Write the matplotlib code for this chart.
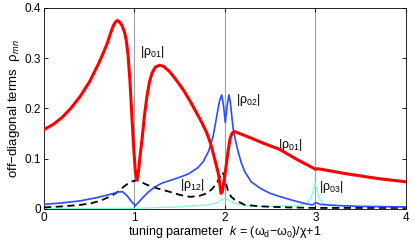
import matplotlib
matplotlib.use("Agg")
import matplotlib.pyplot as plt

plt.rcParams["font.family"] = ["Liberation Sans", "DejaVu Sans"]
plt.rcParams["mathtext.fontset"] = "custom"
plt.rcParams["mathtext.rm"] = "Liberation Sans"
plt.rcParams["mathtext.it"] = "Liberation Sans:italic"
plt.rcParams["font.size"] = 8.5

# |rho_01| (red)
k_01 = [0.0, 0.1, 0.2, 0.3, 0.4, 0.5, 0.6, 0.65, 0.7, 0.74, 0.77, 0.79, 0.81,
        0.83, 0.86, 0.89, 0.91, 0.93, 0.95, 0.97, 0.99, 1.01, 1.028, 1.045,
        1.065, 1.083, 1.11, 1.138, 1.165, 1.193, 1.23, 1.275, 1.32, 1.39, 1.46,
        1.54, 1.62, 1.69, 1.75, 1.80, 1.84, 1.87, 1.90, 1.93, 1.95, 1.956,
        1.97, 1.99, 2.01, 2.035, 2.058, 2.08, 2.106, 2.15, 2.22, 2.33, 2.42,
        2.6, 2.79, 2.97, 3.0, 3.03, 3.34, 3.71, 4.0]
rho_01 = [0.158, 0.168, 0.182, 0.201, 0.224, 0.252, 0.288, 0.308, 0.330, 0.352,
          0.366, 0.372, 0.375, 0.373, 0.366, 0.352, 0.335, 0.305, 0.255, 0.190,
          0.125, 0.075, 0.058, 0.075, 0.110, 0.137, 0.185, 0.224, 0.252, 0.270,
          0.282, 0.286, 0.284, 0.273, 0.257, 0.237, 0.213, 0.190, 0.170, 0.151,
          0.131, 0.111, 0.090, 0.068, 0.040, 0.031, 0.033, 0.055, 0.081, 0.115,
          0.141, 0.151, 0.154, 0.151, 0.146, 0.138, 0.131, 0.119, 0.099, 0.082,
          0.079, 0.080, 0.070, 0.060, 0.054]

# |rho_02| (blue)
k_02 = [0.0, 0.2, 0.4, 0.6, 0.75, 0.83, 0.87, 0.92, 0.97, 1.01, 1.05, 1.1,
        1.15, 1.22, 1.3, 1.4, 1.5, 1.6, 1.7, 1.76, 1.82, 1.87, 1.91, 1.94,
        1.964, 1.985, 2.004, 2.024, 2.044, 2.06, 2.09, 2.12, 2.146, 2.18, 2.22,
        2.29, 2.4, 2.5, 2.6, 2.75, 2.9, 2.97, 3.0, 3.01, 3.05, 3.2, 3.5, 4.0]
rho_02 = [0.009, 0.012, 0.016, 0.023, 0.030, 0.034, 0.034, 0.026, 0.014,
          0.0066, 0.014, 0.024, 0.033, 0.043, 0.051, 0.057, 0.063, 0.070, 0.082,
          0.094, 0.115, 0.145, 0.185, 0.215, 0.227, 0.205, 0.172, 0.205, 0.227,
          0.212, 0.161, 0.133, 0.114, 0.092, 0.074, 0.054, 0.040, 0.031, 0.025,
          0.017, 0.010, 0.008, 0.012, 0.0125, 0.009, 0.007, 0.005, 0.004]

# |rho_12| (black dashed)
k_12 = [0.0, 0.2, 0.4, 0.515, 0.62, 0.734, 0.81, 0.88, 0.955, 1.028, 1.08,
        1.138, 1.25, 1.39, 1.5, 1.615, 1.72, 1.80, 1.86, 1.91, 1.945, 1.975,
        2.0, 2.02, 2.037, 2.07, 2.11, 2.22, 2.4, 2.7, 3.0, 4.0]
rho_12 = [0.003, 0.005, 0.008, 0.011, 0.016, 0.025, 0.033, 0.044, 0.054,
          0.057, 0.053, 0.048, 0.041, 0.034, 0.028, 0.024, 0.026, 0.031, 0.040,
          0.051, 0.064, 0.073, 0.062, 0.045, 0.034, 0.024, 0.018, 0.008, 0.005,
          0.003, 0.002, 0.002]

# |rho_03| (cyan)
k_03 = [0.0, 1.0, 1.3, 1.5, 1.8, 1.91, 1.96, 2.0, 2.05, 2.11, 2.24, 2.5, 2.8,
        2.9, 2.95, 2.975, 2.995, 3.015, 3.04, 3.08, 3.34, 4.0]
rho_03 = [0.0008, 0.001, 0.003, 0.004, 0.008, 0.011, 0.018, 0.021, 0.016,
          0.011, 0.006, 0.005, 0.006, 0.011, 0.022, 0.035, 0.051, 0.038,
          0.022, 0.011, 0.005, 0.003]

labels = ["|ρ$_{01}$|", "|ρ$_{02}$|", "|ρ$_{12}$|", "|ρ$_{01}$|", "|ρ$_{03}$|"]
label_k = [1.06, 2.12, 1.505, 2.59, 3.045]
label_rho = [0.313, 0.217, 0.048, 0.128, 0.043]

fig = plt.figure(figsize=(4.15, 2.49), dpi=100)
ax = fig.add_axes([0.106, 0.161, 0.872, 0.807])

for xv in [1, 2, 3]:
    ax.axvline(xv, color="#a0a0a0", lw=0.8, zorder=1)

ax.plot(k_03, rho_03, color="#7fffd4", lw=0.9, zorder=2)
ax.plot(k_12, rho_12, color="black", lw=1.3, ls=(0, (4, 2.5)), zorder=3)
ax.plot(k_02, rho_02, color="#2b4cff", lw=1.2, zorder=4)
ax.plot(k_01, rho_01, color="#ff0000", lw=2.2, zorder=5)

for txt, kx, ry in zip(labels, label_k, label_rho):
    ax.text(kx, ry, txt, ha="left", va="center", fontsize=9)

ax.set_xlim(0, 4)
ax.set_ylim(0, 0.4)
ax.set_xticks([0, 1, 2, 3, 4])
ax.set_yticks([0, 0.1, 0.2, 0.3, 0.4])
ax.set_yticklabels(["0", "0.1", "0.2", "0.3", "0.4"])
ax.tick_params(direction="in", length=3, width=0.6, top=True, right=True, pad=2)
for sp in ax.spines.values():
    sp.set_linewidth(0.6)

ax.set_xlabel(r"tuning parameter  $k$ = (ω$_\mathrm{d}$−ω$_0$)/χ+1", fontsize=9, labelpad=0)
ax.set_ylabel(r"off−diagonal terms  ρ$_{mn}$", fontsize=9.5, labelpad=2)

fig.savefig("out.png", dpi=100)
